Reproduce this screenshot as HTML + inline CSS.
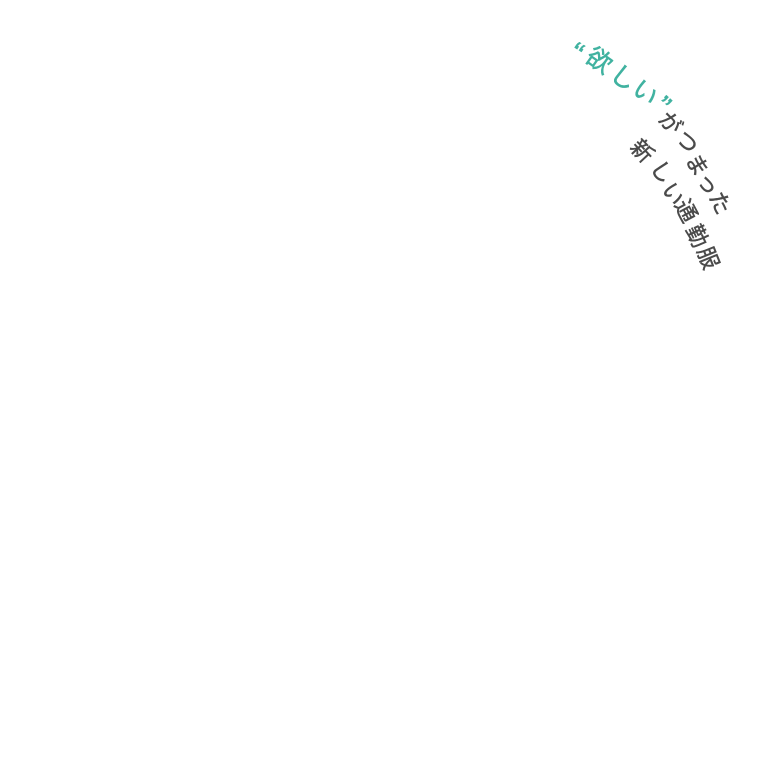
<!DOCTYPE html>
<html lang="ja">
<head>
<meta charset="utf-8">
<style>
  html,body{margin:0;padding:0;background:#fff;}
  svg{display:block;}
  text{font-family:"Liberation Sans","Noto Sans CJK JP",sans-serif;dominant-baseline:central;text-anchor:middle;}
  .t{fill:#40b2a0;stroke:#40b2a0;stroke-width:0.5;font-size:25px;}
  .q{fill:#40b2a0;stroke:#40b2a0;stroke-width:0.4;font-size:32px;}
  .g{fill:#4a4a4a;stroke:#4a4a4a;stroke-width:0.45;font-size:22px;}
</style>
</head>
<body>
<svg width="768" height="768" viewBox="0 0 768 768" xmlns="http://www.w3.org/2000/svg">
  <rect width="768" height="768" fill="#fff"/>
  <!-- line 1 -->
  <text class="q" transform="translate(576,53) rotate(33)">“</text>
  <text class="t" transform="translate(599,61) rotate(35)">欲</text>
  <text class="t" transform="translate(623,78) rotate(37)">し</text>
  <text class="t" transform="translate(645,93) rotate(40)">い</text>
  <text class="q" transform="translate(662,106) rotate(42)">”</text>
  <text class="g" transform="translate(670,123) rotate(48)">が</text>
  <text class="g" transform="translate(687,142) rotate(55)">つ</text>
  <text class="g" transform="translate(697,165) rotate(60)">ま</text>
  <text class="g" transform="translate(708,184) rotate(62)">っ</text>
  <text class="g" transform="translate(720,203) rotate(64)">た</text>
  <!-- line 2 -->
  <text class="g" transform="translate(642,151) rotate(47)">新</text>
  <text class="g" transform="translate(662,172) rotate(55)">し</text>
  <text class="g" transform="translate(673,194) rotate(60)">い</text>
  <text class="g" transform="translate(686,211) rotate(62)">通</text>
  <text class="g" transform="translate(697,236) rotate(65)">勤</text>
  <text class="g" transform="translate(708,258) rotate(68)">服</text>
</svg>
</body>
</html>
